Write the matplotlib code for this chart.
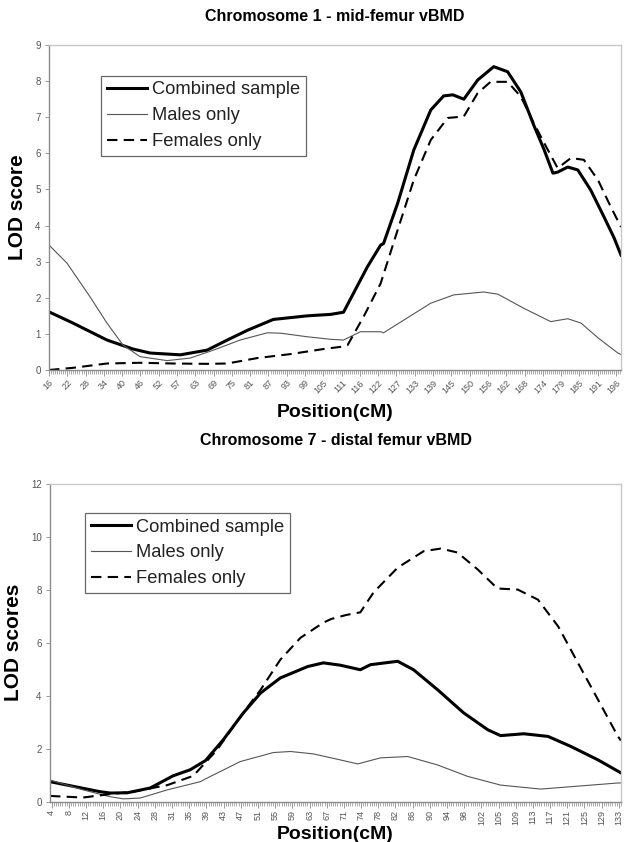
import numpy as np
import matplotlib
matplotlib.use("Agg")
import matplotlib.pyplot as plt
from matplotlib.ticker import FixedLocator

plt.rcParams['font.family'] = ['Liberation Sans', 'DejaVu Sans']

# ---------------- Chromosome 1 data ----------------
chr1_ticklabels = ["16", "22", "28", "34", "40", "46", "52", "57", "63", "69", "75", "81",
                   "87", "93", "99", "105", "111", "116", "122", "127", "133", "139", "145",
                   "150", "156", "162", "168", "174", "179", "185", "191", "196"]

chr1_comb_x = [16.0, 23.6, 34.4, 42.7, 48.1, 57.7, 66.2, 72.6, 79.0, 87.2, 98.0, 105.4,
               109.5, 112.7, 117.1, 121.3, 122.2, 126.7, 131.8, 137.2, 141.3, 144.2, 147.7,
               152.1, 157.2, 161.6, 165.8, 169.9, 173.1, 176.0, 177.5, 180.7, 183.9, 188.0,
               192.2, 195.4, 197.6]
chr1_comb_y = [1.61, 1.30, 0.83, 0.58, 0.47, 0.42, 0.55, 0.83, 1.10, 1.40, 1.50, 1.54,
               1.60, 2.13, 2.86, 3.46, 3.50, 4.62, 6.09, 7.20, 7.59, 7.62, 7.50,
               8.03, 8.40, 8.26, 7.70, 6.78, 6.12, 5.45, 5.48, 5.62, 5.54, 4.98,
               4.24, 3.66, 3.18]

chr1_male_x = [16.0, 21.7, 29.0, 34.4, 39.5, 44.9, 53.5, 60.8, 68.2, 76.7, 85.3, 89.5, 98.0,
               105.4, 109.5, 114.9, 121.3, 122.2, 128.6, 137.2, 144.5, 154.0, 158.5, 166.7,
               175.3, 180.7, 184.9, 190.3, 196.6, 197.6]
chr1_male_y = [3.46, 2.96, 2.03, 1.30, 0.69, 0.37, 0.26, 0.33, 0.55, 0.83, 1.03, 1.02, 0.92,
               0.85, 0.83, 1.06, 1.06, 1.03, 1.38, 1.85, 2.08, 2.16, 2.10, 1.71,
               1.34, 1.42, 1.30, 0.89, 0.47, 0.43]

chr1_fem_x = [16.0, 23.6, 34.4, 44.9, 55.4, 66.2, 72.6, 82.1, 92.6, 103.1, 108.5, 110.8,
              115.9, 121.3, 126.7, 131.8, 137.2, 142.6, 147.7, 152.1, 156.2, 161.6, 165.8,
              169.9, 174.4, 177.5, 181.7, 185.8, 190.3, 194.4, 197.6]
chr1_fem_y = [0.00, 0.06, 0.18, 0.20, 0.18, 0.17, 0.18, 0.33, 0.44, 0.58, 0.64, 0.69,
              1.48, 2.40, 3.88, 5.26, 6.37, 6.98, 7.02, 7.67, 7.98, 7.98, 7.57,
              6.84, 6.09, 5.59, 5.87, 5.82, 5.26, 4.51, 3.96]

# ---------------- Chromosome 7 data ----------------
chr7_ticklabels = ["4", "8", "12", "16", "20", "24", "28", "31", "35", "39", "43", "47", "51",
                   "55", "59", "63", "67", "71", "74", "78", "82", "86", "90", "94", "98",
                   "102", "105", "109", "113", "117", "121", "125", "129", "133"]

chr7_comb_x = [3.6, 7.5, 15.0, 17.3, 21.2, 26.4, 31.6, 35.5, 39.0, 43.0, 47.6, 51.5, 56.0,
               62.2, 65.8, 69.7, 74.2, 76.5, 82.7, 86.3, 91.8, 97.7, 103.2, 106.1, 111.4,
               116.9, 122.1, 128.3, 133.5]
chr7_comb_y = [0.75, 0.62, 0.37, 0.32, 0.33, 0.51, 0.97, 1.20, 1.55, 2.33, 3.35, 4.10, 4.67,
               5.10, 5.24, 5.15, 4.98, 5.17, 5.30, 4.98, 4.22, 3.35, 2.71, 2.49, 2.56,
               2.46, 2.08, 1.57, 1.08]

chr7_male_x = [3.6, 11.1, 17.3, 20.3, 24.1, 30.3, 37.8, 39.4, 46.9, 54.4, 58.3, 63.5, 69.7,
               73.6, 78.8, 85.0, 91.8, 98.6, 100.9, 106.1, 115.2, 121.4, 132.8, 133.5]
chr7_male_y = [0.81, 0.44, 0.18, 0.10, 0.13, 0.44, 0.75, 0.89, 1.51, 1.85, 1.89, 1.80, 1.57,
               1.42, 1.65, 1.70, 1.38, 0.95, 0.85, 0.62, 0.47, 0.55, 0.70, 0.70]

chr7_fem_x = [3.6, 11.1, 17.3, 22.5, 30.3, 36.2, 41.6, 46.9, 51.5, 56.0, 60.6, 65.8, 67.6,
              71.0, 74.2, 77.2, 82.7, 88.6, 92.5, 96.3, 100.9, 105.4, 110.0, 114.6, 119.2,
              123.7, 128.3, 132.8, 133.5]
chr7_fem_y = [0.21, 0.15, 0.28, 0.37, 0.62, 0.97, 1.95, 3.21, 4.22, 5.36, 6.19, 6.76, 6.90,
              7.05, 7.15, 7.90, 8.84, 9.46, 9.56, 9.41, 8.77, 8.05, 8.01, 7.63, 6.62,
              5.24, 3.84, 2.46, 2.30]

series_labels = ["Combined sample", "Males only", "Females only"]

fig = plt.figure(figsize=(6.24, 8.42), dpi=100)

W, H = 624.0, 842.0


def make_axes(l, r, t, b):
    return fig.add_axes([l / W, 1 - b / H, (r - l) / W, (b - t) / H])


ax1 = make_axes(49, 621, 45, 370)
ax2 = make_axes(50, 621, 484, 801.5)

gray_axis = "#8a8a8a"
tick_col = "#555555"


def style(ax, xlim, ylim, yticks, ticklabels, rot, nminor, ylabel, xlabelpad):
    ax.set_xlim(*xlim)
    ax.set_ylim(*ylim)
    n = len(ticklabels)
    lo = float(ticklabels[0]); hi = float(ticklabels[-1])
    major = np.linspace(lo, hi, n)
    ax.set_xticks(major)
    if rot == 45:
        ax.set_xticklabels(ticklabels, rotation=45, ha="right", va="top",
                           rotation_mode="anchor", fontsize=6.5, color=tick_col)
    else:
        ax.set_xticklabels(ticklabels, rotation=90, ha="center", va="top",
                           fontsize=6.5, color=tick_col)
    minor = np.linspace(lo, hi, (n - 1) * nminor + 1)
    minor = np.concatenate([minor, np.arange(hi, xlim[1], (hi - lo) / ((n - 1) * nminor))])
    ax.xaxis.set_minor_locator(FixedLocator(minor))
    ax.tick_params(axis="x", which="major", length=4, width=0.6, color=gray_axis, pad=2)
    ax.tick_params(axis="x", which="minor", length=3, width=0.5, color=gray_axis)
    ax.set_yticks(yticks)
    ax.set_yticklabels([str(v) for v in yticks], fontsize=7, color=tick_col)
    ax.tick_params(axis="y", length=3, width=0.6, color=gray_axis, pad=3)
    for s in ["left", "bottom"]:
        ax.spines[s].set_color(gray_axis)
        ax.spines[s].set_linewidth(1.0)
    for s in ["top", "right"]:
        ax.spines[s].set_color("#c8c8c8")
        ax.spines[s].set_linewidth(1.0)
    ax.set_ylabel(ylabel, fontsize=15, fontweight="bold", labelpad=6)
    ax.set_xlabel("Position(cM)", fontsize=14, fontweight="bold", labelpad=xlabelpad)


def draw(ax, cx, cy, mx, my, fx, fy, legbox):
    ax.plot(cx, cy, color="black", lw=2.2, label=series_labels[0], solid_joinstyle="round")
    ax.plot(mx, my, color="#555555", lw=0.8, label=series_labels[1])
    ax.plot(fx, fy, color="black", lw=1.5, ls=(0, (5, 3)), label=series_labels[2])
    leg = ax.legend(loc="upper left", bbox_to_anchor=legbox, fontsize=13.2, frameon=True,
                    fancybox=False, edgecolor="#444444", borderpad=0.3, labelspacing=0.48,
                    handlelength=2.2, handletextpad=0.3, borderaxespad=0)
    leg.get_frame().set_linewidth(0.9)
    for t in leg.get_texts():
        t.set_color("#222222")


style(ax1, (16, 197.6), (0, 9), list(range(0, 10)), chr1_ticklabels, 45, 9, "LOD score", 6)
draw(ax1, chr1_comb_x, chr1_comb_y, chr1_male_x, chr1_male_y, chr1_fem_x, chr1_fem_y,
     ((101 - 49) / 572, (370 - 76) / 325))
ax1.set_title("Chromosome 1 - mid-femur vBMD", fontsize=11.5, fontweight="bold", pad=17)

style(ax2, (3.6, 133.5), (0, 12), [0, 2, 4, 6, 8, 10, 12], chr7_ticklabels, 90, 8,
      "LOD scores", 1)
draw(ax2, chr7_comb_x, chr7_comb_y, chr7_male_x, chr7_male_y, chr7_fem_x, chr7_fem_y,
     ((85 - 50) / 571, (801.5 - 513) / 317.5))
ax2.set_title("Chromosome 7 - distal femur vBMD", fontsize=11.5, fontweight="bold", pad=28)

fig.savefig("out.png", dpi=100)
